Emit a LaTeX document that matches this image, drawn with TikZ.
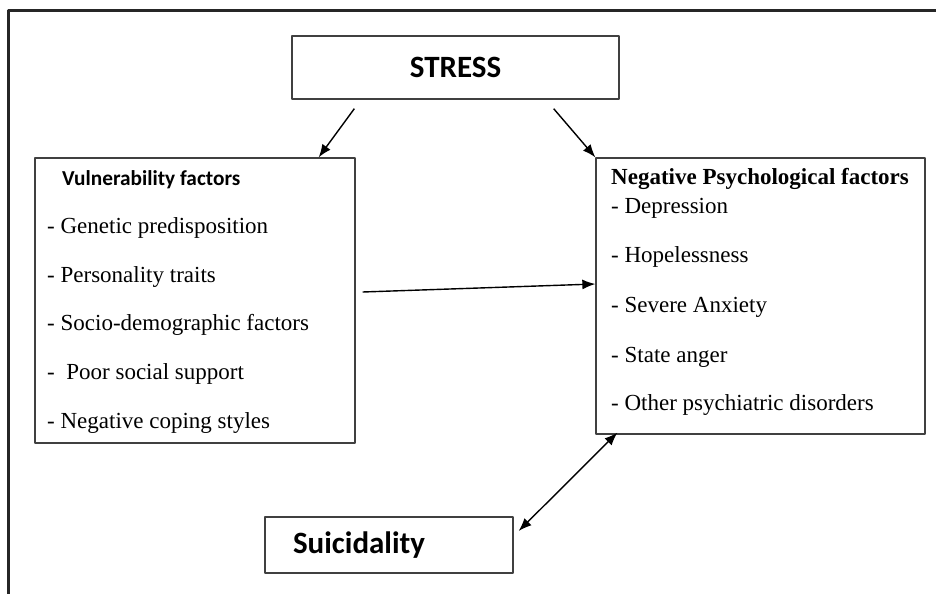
\documentclass[tikz,border=0pt]{standalone}
\usepackage{fontspec}
\setmainfont{Liberation Serif}
\newfontfamily\calibri{Carlito}
\usetikzlibrary{arrows.meta,calc}

\begin{document}
\begin{tikzpicture}[x=1pt,y=-1pt,line join=round,
	box/.style={draw=black!75,line width=1.3pt,fill=white,inner sep=0pt},
	head/.style={font=\calibri\bfseries\fontsize{31}{34}\selectfont},
	item/.style={anchor=west,inner sep=0pt,font=\fontsize{23}{26}\selectfont},
	arr/.style={line width=1.4pt,-{Latex[length=13pt,width=10pt]}}]
			\useasboundingbox (0,0) rectangle (936,594);
			\draw[line width=3pt,black!85] (936,11)--(8,11)--(8,594);
			\node[box,head,minimum width=327pt,minimum height=63pt] (stress) at (455.5,67.5) {STRESS};
			\node[box,minimum width=320pt,minimum height=285pt] (vul) at (195,300.5) {};
			\node[box,minimum width=329pt,minimum height=276pt] (neg) at (760.5,296) {};
			\node[box,head,inner xsep=28pt,text width=192pt,align=left,minimum height=56pt] (suic) at (389,545) {Suicidality};
			\node[item,font=\calibri\bfseries\fontsize{21.3}{24}\selectfont] (vult) at (62,180) {Vulnerability factors};
			\foreach \i/\g/\t in {1/228/- Genetic predisposition,2/277/- Personality traits,3/325/- Socio-demographic factors,4/374/-\ \ Poor social support,5/423/- Negative coping styles}{\node[item] (vul\i) at (47,\g) {\t};}
			\node[item,font=\bfseries\fontsize{23}{26}\selectfont] (negt) at (611,179) {Negative Psychological factors};
			\foreach \i/\g/\t in {1/208/- Depression,2/257/- Hopelessness,3/307/- Severe Anxiety,4/357/- State anger,5/405/- Other psychiatric disorders}{\node[item] (neg\i) at (611,\g) {\t};}
			\coordinate (SL) at ($(stress.south west)+(63,9)$);
			\coordinate (SR) at ($(stress.south east)+(-66,9)$);
			\coordinate (VR) at ($(vul.east)+(7,-8.5)$);
			\draw[arr] (SL)--([xshift=-37pt]vul.north east);
			\draw[arr] (SR)--(neg.north west);
			\draw[arr] (VR)--([yshift=12pt]neg.west);
			\draw[arr,{Latex[length=13pt,width=10pt]}-{Latex[length=13pt,width=10pt]}] ([xshift=5pt,yshift=14pt]suic.east)--([xshift=22pt,yshift=2pt]neg.south west);
		\end{tikzpicture}
\end{document}
